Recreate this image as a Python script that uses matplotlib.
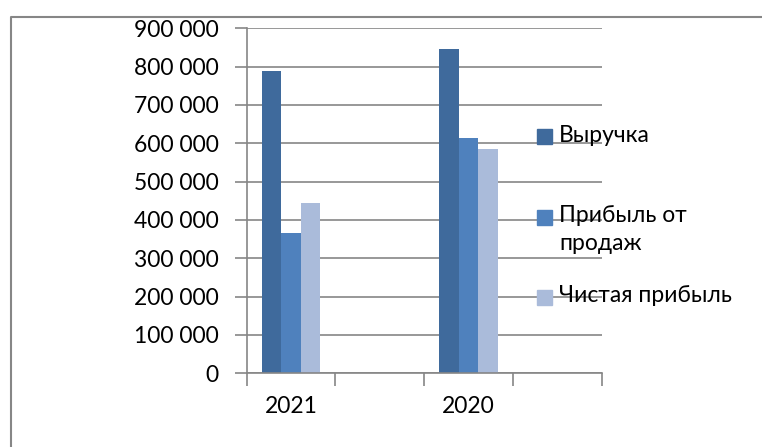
import numpy as np
import matplotlib.pyplot as plt
from matplotlib.patches import Rectangle
from matplotlib.lines import Line2D

plt.rcParams['font.family'] = ['Lato', 'DejaVu Sans']

# data (two empty categories as in the original)
categories = ['2021', '', '2020', '']
series = ['Выручка', 'Прибыль от\nпродаж', 'Чистая прибыль']
revenue = [788000, 0, 845000, 0]
sales_profit = [365000, 0, 613000, 0]
net_profit = [445000, 0, 585000, 0]
colors = ['#3F6A9C', '#4F81BD', '#AABBDA']
yticks = [0, 100000, 200000, 300000, 400000, 500000, 600000, 700000, 800000, 900000]

fig = plt.figure(figsize=(7.62, 4.47), dpi=100)
ax = fig.add_axes([0.3238, 0.1649, 0.4658, 0.7718])

x = np.arange(len(categories))
w = 0.22
for i, vals in enumerate([revenue, sales_profit, net_profit]):
    ax.bar(x + (i - 1) * w, vals, width=w, color=colors[i], zorder=2)

ax.set_xlim(-0.5, len(categories) - 0.5)
ax.set_ylim(0, 900000)
ax.set_yticks(yticks)
ax.set_yticklabels([f'{v:,}'.replace(',', ' ') for v in yticks], fontsize=16.5)

# category boundaries get the tick marks, labels sit in the middle
ax.set_xticks(np.arange(len(categories) + 1) - 0.5)
ax.set_xticklabels([])
ax.set_xticks(x, minor=True)
ax.set_xticklabels(categories, minor=True, fontsize=16.5)
ax.tick_params(axis='x', which='major', length=9, color='#868686', width=1.2)
ax.tick_params(axis='x', which='minor', length=0, pad=16)
ax.tick_params(axis='y', length=9, color='#868686', width=1.2, pad=11)

ax.grid(axis='y', color='#868686', linewidth=1.2)
ax.set_axisbelow(True)
for s in ['top', 'right']:
    ax.spines[s].set_visible(False)
for s in ['left', 'bottom']:
    ax.spines[s].set_color('#868686')
    ax.spines[s].set_linewidth(1.2)

# hand placed legend, markers aligned with the first text line
leg_y = [136.7, 217.3, 297.3]
for lab, c, yy in zip(series, colors, leg_y):
    fy = 1 - yy / 447
    fig.add_artist(Rectangle((537 / 762, fy - 7.5 / 447), 15 / 762, 15 / 447,
                             transform=fig.transFigure, color=c))
    fig.text(559 / 762, fy + 12 / 447, lab, fontsize=16.5, va='top', ha='left',
             linespacing=1.4)

# outer frame (only top and left edges are visible)
fig.add_artist(Line2D([10.7 / 762, 10.7 / 762, 1], [0, 1 - 17 / 447, 1 - 17 / 447],
                      transform=fig.transFigure, color='#868686', linewidth=1.5))

fig.savefig('out.png', dpi=100)
